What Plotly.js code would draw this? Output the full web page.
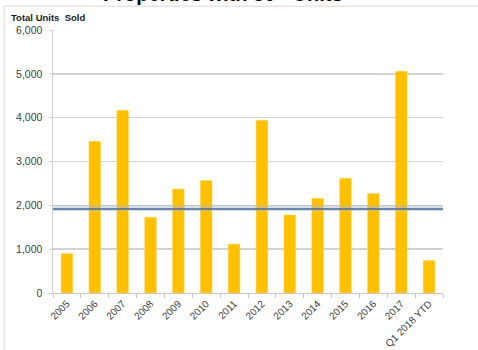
<!DOCTYPE html>
<html>
<head>
<meta charset="utf-8">
<script src="https://cdn.plot.ly/plotly-3.0.1.min.js"></script>
<style>
  html, body { margin: 0; padding: 0; background: #ffffff; }
  #chart { width: 478px; height: 350px; }
</style>
</head>
<body>
<div id="chart"></div>
<script>
const categories = ['2005', '2006', '2007', '2008', '2009', '2010', '2011', '2012', '2013', '2014', '2015', '2016', '2017', 'Q1 2018 YTD'];
const unitsSold = [900, 3460, 4170, 1730, 2370, 2565, 1115, 3940, 1780, 2160, 2620, 2270, 5060, 740];
const referenceLineValue = 1915;
const yTickValues = [0, 1000, 2000, 3000, 4000, 5000, 6000];
const chartTitle = 'Properties with 50+ Units';
const yAxisLabel = 'Total Units  Sold';

const trace = {
  type: 'bar',
  x: categories,
  y: unitsSold,
  marker: { color: '#FFC000', line: { color: '#FFD966', width: 0.5 } },
  hoverinfo: 'x+y'
};

const layout = {
  width: 478,
  height: 350,
  margin: { l: 52.5, r: 34.5, t: 30, b: 56.7 },
  paper_bgcolor: '#ffffff',
  plot_bgcolor: '#ffffff',
  showlegend: false,
  bargap: 0.58,
  font: { family: 'Liberation Sans, Arial, sans-serif', color: '#595959', size: 10 },
  xaxis: {
    type: 'category',
    tickangle: -45,
    tickfont: { size: 10, color: '#404040' },
    showline: true,
    linecolor: '#c8c8c8',
    linewidth: 1,
    ticks: 'outside',
    tickson: 'boundaries',
    ticklen: 4,
    tickcolor: '#c8c8c8',
    showgrid: false,
    zeroline: false
  },
  yaxis: {
    range: [0, 6000],
    tickvals: yTickValues,
    tickformat: ',d',
    tickfont: { size: 10.5, color: '#404040' },
    showline: true,
    linecolor: '#d0d0d0',
    linewidth: 1.5,
    ticks: 'outside',
    ticklen: 3,
    tickcolor: '#d0d0d0',
    showgrid: true,
    gridcolor: '#d3d3d3',
    gridwidth: 1.5,
    zeroline: false,
    ticklabelstandoff: 4
  },
  shapes: [
    {
      type: 'line', xref: 'paper', yref: 'paper',
      x0: -0.125, x1: 1.2, y0: 1.09, y1: 1.09,
      line: { color: '#e6e6e6', width: 1.5 }, layer: 'below'
    },
    {
      type: 'line', xref: 'paper', yref: 'paper',
      x0: -0.125, x1: -0.125, y0: 1.09, y1: -0.3,
      line: { color: '#e6e6e6', width: 1.5 }, layer: 'below'
    },
    {
      type: 'line', xref: 'paper', yref: 'y',
      x0: 0, x1: 1, y0: referenceLineValue + 25, y1: referenceLineValue + 25,
      line: { color: 'rgba(170,185,205,0.45)', width: 6 }, layer: 'above'
    },
    {
      type: 'line', xref: 'paper', yref: 'y',
      x0: 0, x1: 1, y0: referenceLineValue, y1: referenceLineValue,
      line: { color: '#44689A', width: 1.6 }, layer: 'above'
    }
  ],
  annotations: [
    {
      text: '<b>' + chartTitle + '</b>',
      xref: 'paper', yref: 'paper',
      x: 0.435, y: 1, xanchor: 'center', yanchor: 'bottom',
      yshift: 23,
      showarrow: false,
      font: { size: 20, color: '#000000', family: 'Liberation Sans, Arial, sans-serif' }
    },
    {
      text: '<b>' + yAxisLabel + '</b>',
      xref: 'paper', yref: 'paper',
      x: 0, y: 1, xanchor: 'left', yanchor: 'middle',
      xshift: -44, yshift: 13,
      showarrow: false,
      font: { size: 9.5, color: '#1a1a1a', family: 'Liberation Sans, Arial, sans-serif' }
    }
  ]
};

Plotly.newPlot('chart', [trace], layout, { displayModeBar: false, staticPlot: true });
</script>
</body>
</html>
